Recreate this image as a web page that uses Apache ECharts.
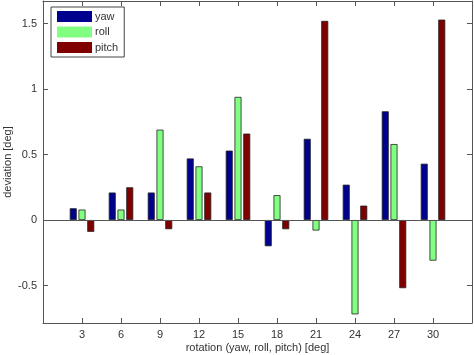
<!DOCTYPE html>
<html>
<head>
<meta charset="utf-8">
<script src="https://cdn.jsdelivr.net/npm/echarts@6/dist/echarts.min.js"></script>
<style>
  html, body { margin: 0; padding: 0; background: #fff; }
  #chart { width: 474px; height: 355px; }
</style>
</head>
<body>
<div id="chart"></div>
<script>
// rotation steps (x axis), with empty end slots so the axis runs 0..33
const rotations = ['0', '3', '6', '9', '12', '15', '18', '21', '24', '27', '30', '33'];
const yaw   = [null, 0.09, 0.21, 0.21, 0.47, 0.53, -0.20, 0.62, 0.27, 0.83, 0.43, null];
const roll  = [null, 0.08, 0.08, 0.69, 0.41, 0.94, 0.19, -0.08, -0.72, 0.58, -0.31, null];
const pitch = [null, -0.09, 0.25, -0.07, 0.21, 0.66, -0.07, 1.52, 0.11, -0.52, 1.53, null];
const yTicks = [-0.5, 0, 0.5, 1, 1.5];

const chart = echarts.init(document.getElementById('chart'));

const axisCol = '#555';
const txtCol = '#333';
const font = 'Liberation Sans';

// shared look for the boxed axes
function catAxis(pos, showLabel) {
  return {
    type: 'category',
    position: pos,
    data: rotations,
    boundaryGap: false,
    axisLine: { show: true, onZero: false, lineStyle: { color: axisCol, width: 1 } },
    axisTick: {
      show: true, inside: true, length: 5,
      interval: function (i) { return i > 0 && i < rotations.length - 1; },
      lineStyle: { color: axisCol }
    },
    axisLabel: {
      show: showLabel, color: txtCol, fontFamily: font, fontSize: 11, margin: 6,
      interval: function (i) { return i > 0 && i < rotations.length - 1; }
    },
    splitLine: { show: false }
  };
}
function valAxis(pos, showLabel) {
  return {
    type: 'value',
    position: pos,
    min: -0.786,
    max: 1.672,
    axisLine: { show: true, lineStyle: { color: axisCol, width: 1 } },
    axisTick: { show: true, inside: true, length: 5, customValues: yTicks, lineStyle: { color: axisCol } },
    axisLabel: { show: showLabel, color: txtCol, fontFamily: font, fontSize: 11, margin: 6, customValues: yTicks },
    splitLine: { show: false }
  };
}

const xBottom = catAxis('bottom', true);
xBottom.name = 'rotation (yaw, roll, pitch) [deg]';
xBottom.nameLocation = 'middle';
xBottom.nameGap = 19;
xBottom.nameMoveOverlap = false;
xBottom.nameTextStyle = { color: txtCol, fontFamily: font, fontSize: 11 };

const yLeft = valAxis('left', true);
yLeft.name = 'deviation [deg]';
yLeft.nameLocation = 'middle';
yLeft.nameGap = 30;
yLeft.nameMoveOverlap = false;
yLeft.nameTextStyle = { color: txtCol, fontFamily: font, fontSize: 11 };

function barSeries(name, data, color) {
  return {
    name: name,
    type: 'bar',
    data: data,
    barWidth: 7,
    barGap: '25%',
    itemStyle: { color: color, borderColor: '#222', borderWidth: 0.8 }
  };
}

const series = [
  barSeries('yaw', yaw, '#00008f'),
  barSeries('roll', roll, '#80ff80'),
  barSeries('pitch', pitch, '#800000')
];
// zero baseline across the plot
series[0].markLine = {
  silent: true,
  symbol: 'none',
  label: { show: false },
  lineStyle: { color: '#555', width: 1, type: 'solid' },
  data: [{ yAxis: 0 }]
};

chart.setOption({
  animation: false,
  backgroundColor: '#fff',
  grid: { left: 43, right: 2, top: 1, bottom: 32, containLabel: false, outerBoundsMode: 'none' },
  legend: {
    orient: 'vertical',
    left: 51,
    top: 7,
    icon: 'rect',
    itemWidth: 35,
    itemHeight: 11,
    itemGap: 4.5,
    padding: [4, 6, 4, 6],
    borderColor: '#444',
    borderWidth: 1,
    backgroundColor: '#fff',
    itemStyle: { borderWidth: 0 },
    textStyle: { color: txtCol, fontFamily: font, fontSize: 11, lineHeight: 11, padding: [0, 0, 0, -2] },
    data: ['yaw', 'roll', 'pitch']
  },
  xAxis: [xBottom, catAxis('top', false)],
  yAxis: [yLeft, valAxis('right', false)],
  series: series
});
</script>
</body>
</html>
